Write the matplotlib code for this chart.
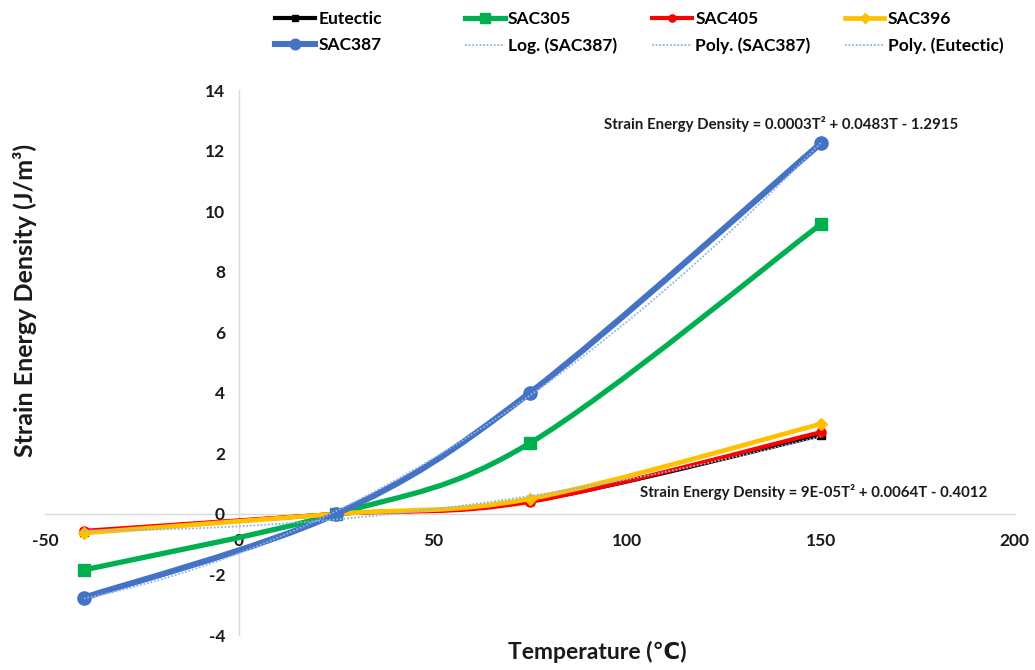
import numpy as np
import matplotlib
matplotlib.use("Agg")
import matplotlib.pyplot as plt
from matplotlib.path import Path
from matplotlib.patches import PathPatch
from matplotlib.lines import Line2D

plt.rcParams['font.family'] = ['Lato', 'DejaVu Sans']
plt.rcParams['font.weight'] = 'bold'
plt.rcParams['axes.unicode_minus'] = False

# temperatures (deg C) and strain energy density (J/m^3) per solder alloy
temps = [-40, 25, 75, 150]
eutectic = [-0.60, 0.0, 0.42, 2.60]
sac305 = [-1.85, 0.0, 2.34, 9.57]
sac405 = [-0.56, 0.0, 0.40, 2.70]
sac396 = [-0.63, 0.0, 0.50, 2.97]
sac387 = [-2.77, 0.0, 4.00, 12.24]

names = ['Eutectic', 'SAC305', 'SAC405', 'SAC396', 'SAC387']
series = [eutectic, sac305, sac405, sac396, sac387]
colors = ['#000000', '#00b050', '#ff0000', '#ffc000', '#4472c4']
markers = ['s', 's', 'o', 'D', 'o']
msizes = [5.5, 8.5, 6.5, 6.5, 9.5]
lwidths = [3.0, 3.8, 3.0, 3.4, 4.4]

eq_sac387 = 'Strain Energy Density = 0.0003T\u00b2 + 0.0483T - 1.2915'
eq_eutectic = 'Strain Energy Density = 9E-05T\u00b2 + 0.0064T - 0.4012'

trend_color = '#8fb4e3'


def smooth_path(x, y):
    # Bezier segments through the points (Excel-style smoothed line)
    p = np.column_stack([x, y]).astype(float)
    n = len(p)
    verts = [p[0]]
    codes = [Path.MOVETO]
    for i in range(n - 1):
        p0 = p[i - 1] if i > 0 else p[i]
        p3 = p[i + 2] if i + 2 < n else p[i + 1]
        c1 = p[i] + (p[i + 1] - p0) / 6.0
        c2 = p[i + 1] - (p3 - p[i]) / 6.0
        verts += [c1, c2, p[i + 1]]
        codes += [Path.CURVE4] * 3
    return Path(verts, codes)


fig = plt.figure(figsize=(10.35, 6.7), dpi=100)
ax = fig.add_axes([0.0435, 0.0522, 0.937, 0.8134])

for i, (name, ys) in enumerate(zip(names, series)):
    patch = PathPatch(smooth_path(temps, ys), fill=False, edgecolor=colors[i],
                      lw=lwidths[i], capstyle='round', joinstyle='round',
                      zorder=2 + i)
    ax.add_patch(patch)
    ax.plot(temps, ys, linestyle='none', marker=markers[i], ms=msizes[i],
            color=colors[i], zorder=2 + i)

# polynomial trendlines (order 2)
tt = np.linspace(min(temps), max(temps), 200)
for ys in (sac387, eutectic):
    coef = np.polyfit(temps, ys, 2)
    ax.plot(tt, np.polyval(coef, tt), linestyle=(0, (1, 1)), lw=1.3,
            color=trend_color, zorder=10)

ax.set_xlim(-50, 200)
ax.set_ylim(-4, 14)
ax.set_xticks(np.arange(-50, 201, 50))
ax.set_yticks(np.arange(-4, 15, 2))

for s in ('top', 'right'):
    ax.spines[s].set_visible(False)
ax.spines['left'].set_position(('data', 0))
ax.spines['bottom'].set_position(('data', 0))
for s in ('left', 'bottom'):
    ax.spines[s].set_color('#d9d9d9')
    ax.spines[s].set_linewidth(1.0)
    ax.spines[s].set_zorder(0)

ax.tick_params(axis='both', length=0, labelsize=12.5, labelcolor='#1a1a1a')
ax.tick_params(axis='x', pad=14)
ax.tick_params(axis='y', pad=10)
for lab in ax.get_xticklabels() + ax.get_yticklabels():
    lab.set_fontweight('bold')

fig.text(0.024, 0.551, 'Strain Energy Density (J/m\u00b3)', rotation=90,
         ha='center', va='center', fontsize=18, fontweight='bold',
         color='#1a1a1a')
fig.text(0.577, 0.027, 'Temperature (\u2103)', ha='center', va='center',
         fontsize=16.5, fontweight='bold', color='#1a1a1a')

ax.text(139.7, 12.88, eq_sac387, ha='center', va='center',
        fontsize=10.8, fontweight='bold', color='#1a1a1a')
ax.text(148.2, 0.73, eq_eutectic, ha='center', va='center',
        fontsize=10.8, fontweight='bold', color='#1a1a1a')

# legend, one block per column
handles = [Line2D([], [], color=colors[i], lw=lwidths[i], marker=markers[i],
                  ms=msizes[i] * 0.8) for i in range(5)]
dotted = Line2D([], [], color=trend_color, lw=1.3, linestyle=(0, (1, 1)))
columns = [
    ([handles[0], handles[4]], ['Eutectic', 'SAC387'], 0.266),
    ([handles[1], dotted], ['SAC305', 'Log. (SAC387)'], 0.449),
    ([handles[2], dotted], ['SAC405', 'Poly. (SAC387)'], 0.630),
    ([handles[3], dotted], ['SAC396', 'Poly. (Eutectic)'], 0.816),
]
for h, labs, x0 in columns:
    fig.legend(h, labs, loc='upper left', bbox_to_anchor=(x0, 0.984),
               frameon=False, ncol=1, handlelength=2.3, handletextpad=0.2,
               labelspacing=0.62, borderaxespad=0, borderpad=0,
               prop={'size': 12.5, 'weight': 'bold'})

fig.savefig('out.png', dpi=100)
